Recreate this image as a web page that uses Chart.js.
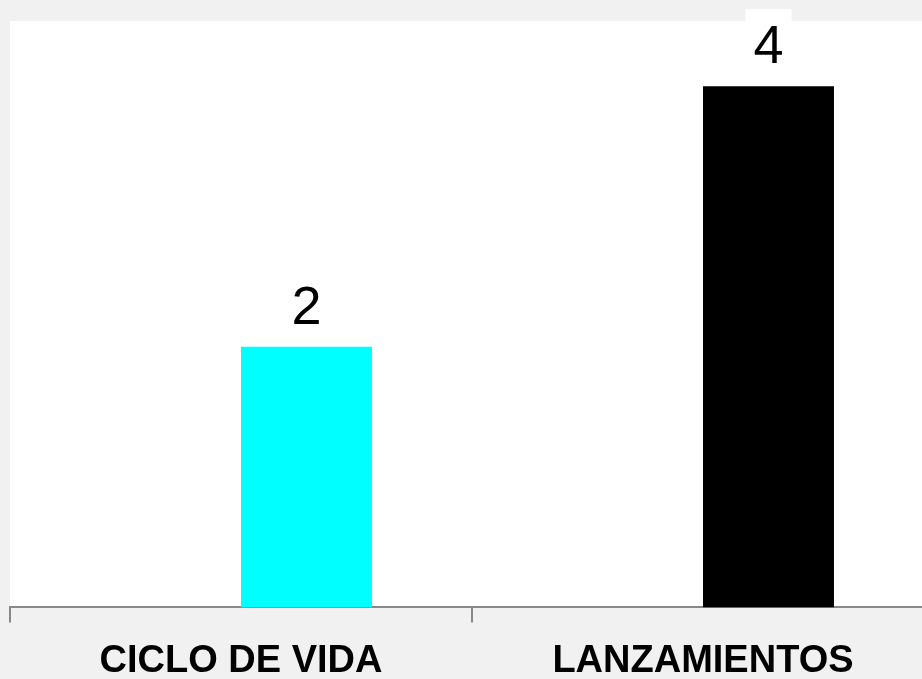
<!DOCTYPE html>
<html>
<head>
<meta charset="utf-8">
<script src="https://cdn.jsdelivr.net/npm/chart.js@4.4.1/dist/chart.umd.min.js"></script>
<style>
  html, body { margin: 0; padding: 0; background: #f1f1f1; overflow: hidden; }
  #wrap { width: 934px; height: 700px; position: relative; }
</style>
</head>
<body>
<div id="wrap"><canvas id="myChartBar"></canvas></div>
<script>
var categories = ['CICLO DE VIDA', 'LANZAMIENTOS'];
var blankSeries = [null, null];
var values = [2, 4];
var barColors = ['#00ffff', '#000000'];
var yMax = 4.5;

// white plot area on grey page
var plotBackground = {
  id: 'plotBackground',
  beforeDraw: function (chart) {
    var a = chart.chartArea;
    var c = chart.ctx;
    c.save();
    c.fillStyle = '#ffffff';
    c.fillRect(a.left, a.top, a.right - a.left, a.bottom - a.top);
    c.restore();
  }
};

// value labels above the bars, white box behind
var valueLabels = {
  id: 'valueLabels',
  afterDatasetsDraw: function (chart) {
    var c = chart.ctx;
    var meta = chart.getDatasetMeta(1);
    c.save();
    c.font = '54px "Liberation Sans"';
    c.textAlign = 'center';
    c.textBaseline = 'alphabetic';
    meta.data.forEach(function (bar, i) {
      var base = bar.y - 23;
      c.fillStyle = '#ffffff';
      c.fillRect(bar.x - 23, base - 54, 46, 66);
      c.fillStyle = '#000000';
      c.fillText(String(values[i]), bar.x, base);
    });
    c.restore();
  }
};

function chartPrint(targetId) {
  var ctx = document.getElementById(targetId);
  new Chart(ctx, {
    type: 'bar',
    data: {
      labels: categories,
      datasets: [{
        label: 'Serie 1',
        data: blankSeries
      }, {
        label: 'Serie 2',
        data: values,
        backgroundColor: barColors,
        borderWidth: 0
      }]
    },
    options: {
      responsive: true,
      maintainAspectRatio: false,
      animation: false,
      categoryPercentage: 0.567,
      barPercentage: 1,
      layout: { padding: { left: 10, top: 21, right: 0, bottom: 0 } },
      plugins: {
        legend: { display: false },
        tooltip: { enabled: false }
      },
      scales: {
        y: {
          display: false,
          min: 0,
          max: yMax
        },
        x: {
          border: { display: true, color: '#888888', width: 2 },
          grid: {
            drawOnChartArea: false,
            drawTicks: true,
            tickLength: 15,
            color: '#888888',
            lineWidth: 2
          },
          ticks: {
            color: '#000000',
            padding: 16,
            maxRotation: 0,
            autoSkip: false,
            font: { family: '"Liberation Sans"', size: 38, weight: 'bold' }
          }
        }
      }
    },
    plugins: [plotBackground, valueLabels]
  });
}

chartPrint('myChartBar');
</script>
</body>
</html>
